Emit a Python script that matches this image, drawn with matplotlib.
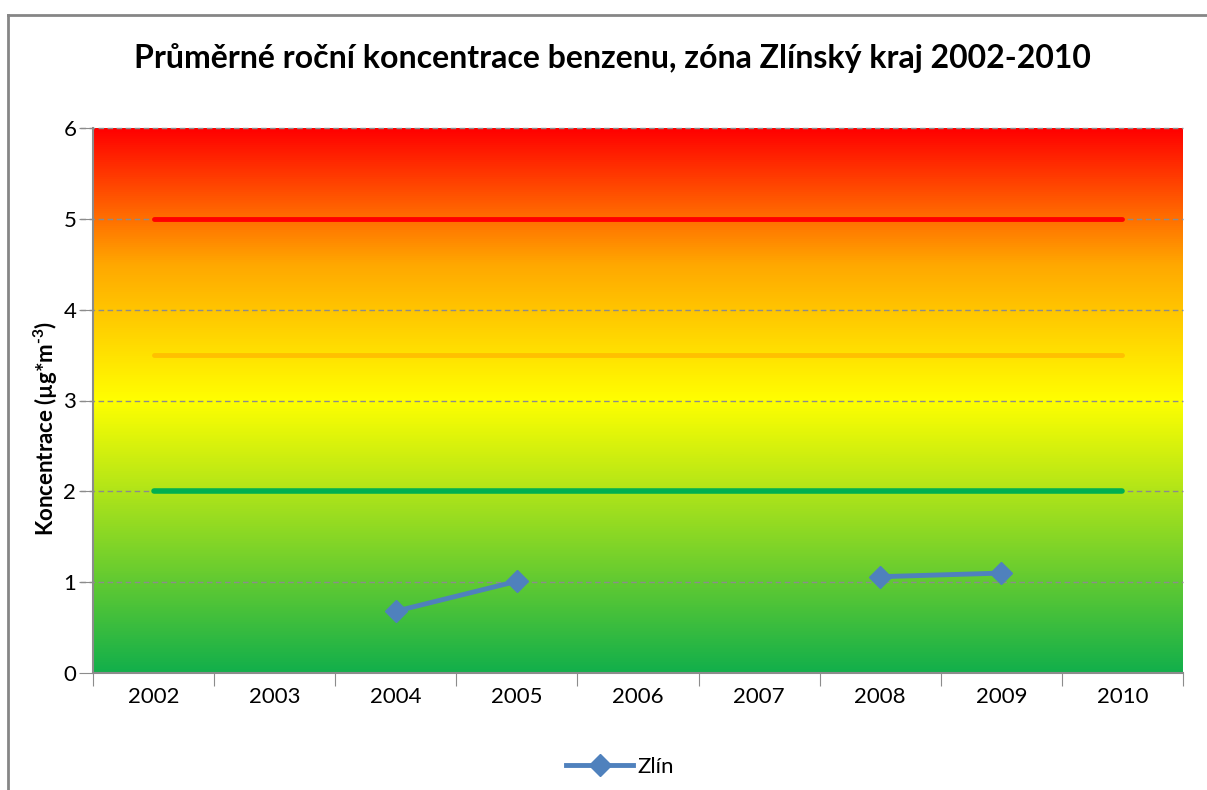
import numpy as np
import matplotlib
matplotlib.use("Agg")
import matplotlib.pyplot as plt
from matplotlib.colors import LinearSegmentedColormap
from matplotlib.lines import Line2D

plt.rcParams['font.family'] = ['Lato', 'DejaVu Sans']
plt.rcParams['mathtext.fontset'] = 'custom'
plt.rcParams['mathtext.rm'] = 'Lato:bold'
plt.rcParams['mathtext.bf'] = 'Lato:bold'

years = ['2002', '2003', '2004', '2005', '2006', '2007', '2008', '2009', '2010']
zlin = [np.nan, np.nan, 0.68, 1.01, np.nan, np.nan, 1.06, 1.10, np.nan]
limit_red = 5.0
limit_orange = 3.5
limit_green = 2.0

title = 'Průměrné roční koncentrace benzenu, zóna Zlínský kraj 2002-2010'
ylabel = 'Koncentrace (µg*m$^{\\text{-3}}$)'

fig = plt.figure(figsize=(12.07, 7.90), dpi=100)
fig.lines.append(Line2D([8/1207, 8/1207], [-0.05, 1 - 15/790], transform=fig.transFigure,
                        color='#868686', lw=2))
fig.lines.append(Line2D([8/1207, 1.05], [1 - 15/790, 1 - 15/790], transform=fig.transFigure,
                        color='#868686', lw=2))
ax = fig.add_axes([93/1207, 1 - 673/790, (1183 - 93)/1207, (673 - 128)/790])

n = len(years)
x = np.arange(n)
ax.set_xlim(-0.5, n - 0.5)
ax.set_ylim(0, 6)

cmap = LinearSegmentedColormap.from_list('g', [
    (0.0, '#12AF4B'),
    (0.5, '#FFFF00'),
    (0.75, '#FFA800'),
    (1.0, '#FF0000'),
])
grad = np.linspace(0, 1, 512).reshape(-1, 1)
ax.imshow(grad, extent=[-0.5, n - 0.5, 0, 6], origin='lower', aspect='auto', cmap=cmap, zorder=0)

for yv in range(1, 7):
    ax.plot([-0.5 - 0.11, n - 0.5], [yv, yv], color='#8C8C8C', lw=1, ls=(0, (4, 2.5)),
            clip_on=False, zorder=1)

ax.plot([0, n - 1], [limit_red] * 2, color='#FF0000', lw=3.5, solid_capstyle='round', zorder=2)
ax.plot([0, n - 1], [limit_orange] * 2, color='#FFC000', lw=3.5, solid_capstyle='round', zorder=2)
ax.plot([0, n - 1], [limit_green] * 2, color='#00B050', lw=4, solid_capstyle='round', zorder=2)

ax.plot(x, zlin, color='#4F81BD', lw=3.5, marker='D', markersize=11, zorder=3)

for s in ['top', 'right']:
    ax.spines[s].set_visible(False)
for s in ['left', 'bottom']:
    ax.spines[s].set_color('#8C8C8C')
    ax.spines[s].set_linewidth(1.5)

ax.set_yticks(range(0, 7))
ax.set_yticklabels([str(v) for v in range(0, 7)], fontsize=16)
ax.tick_params(axis='y', length=10, color='#8C8C8C', pad=2)
ax.set_xticks(np.arange(-0.5, n, 1.0))
ax.set_xticklabels([])
ax.set_xticks(x, minor=True)
ax.set_xticklabels(years, minor=True, fontsize=16)
ax.tick_params(axis='x', which='major', length=9, color='#8C8C8C')
ax.tick_params(axis='x', which='minor', length=0, pad=10)

fig.text(612/1207, 1 - 58/790, title, ha='center', va='center', fontsize=23, fontweight='bold')
fig.text(46/1207, 1 - 428/790, ylabel, ha='center', va='center', rotation=90,
         fontsize=16, fontweight='bold')

h = Line2D([], [], color='#4F81BD', lw=3.5, marker='D', markersize=11)
fig.legend([h], ['Zlín'], loc='center', bbox_to_anchor=(620/1207, 1 - 767/790), frameon=False,
           fontsize=16, handlelength=3, handletextpad=0.2)

fig.savefig('out.png', dpi=100)
